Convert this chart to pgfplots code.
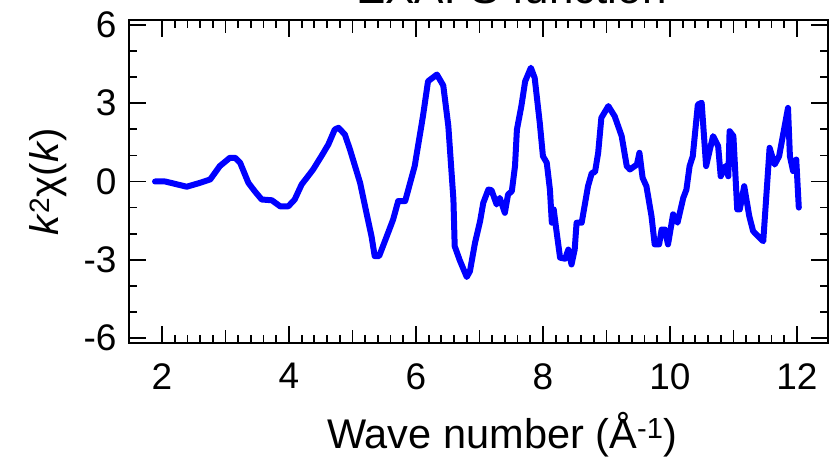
\documentclass[border=0pt]{standalone}
\usepackage{fontspec}
\setmainfont{Liberation Sans}
\usepackage{pgfplots}
\pgfplotsset{compat=1.18}
\begin{document}
\fontsize{37}{44}\selectfont
\begin{tikzpicture}
\begin{axis}[
  at={(0pt,0pt)}, anchor=south west,
  scale only axis, width=699pt, height=323pt,
  xmin=1.48, xmax=12.49, ymin=-6.19, ymax=6.19,
  axis line style={line width=2pt},
  tick style={line width=1.8pt, black},
  tick align=inside,
  xtick={2,4,...,12},
  minor x tick num=9,
  extra x ticks={3,5,7,9,11}, extra x tick labels={},
  extra x tick style={major tick length=13pt},
  ytick={-6,-3,0,3,6}, minor y tick num=2,
  major tick length=17pt, minor tick length=8pt,
  /pgf/number format/assume math mode=true,
  ticklabel style={font=\fontsize{37}{44}\selectfont},
  xticklabel style={yshift=-8pt},
  every axis y label/.style={at={(axis description cs:-0.116,0.5)}, rotate=90, anchor=center, font=\fontsize{40}{46}\selectfont},
  every axis x label/.style={at={(axis description cs:0.534,0)}, anchor=base, yshift=-105pt, font=\fontsize{41.5}{48}\selectfont},
  every axis title/.style={at={(axis description cs:0.547,1)}, anchor=base, yshift=16pt, font=\fontsize{44}{50}\selectfont},
  title={EXAFS function},
  xlabel={Wave number (Å\textsuperscript{-1})},
  ylabel={\textit{k}\textsuperscript{2}χ(\textit{k})},
]
\addplot[color={rgb,255:red,0;green,0;blue,255}, line width=6pt, line join=round, line cap=round] coordinates {
(1.89,0.00) (2.05,0.00) (2.39,-0.20) (2.60,-0.05) (2.76,0.08) (2.91,0.59) (3.07,0.91) (3.15,0.91) (3.23,0.72)
(3.36,-0.05) (3.46,-0.37) (3.57,-0.69) (3.73,-0.72) (3.86,-0.95) (3.99,-0.95) (4.09,-0.69) (4.20,-0.11)
(4.28,0.14) (4.38,0.46) (4.51,0.97) (4.62,1.42) (4.72,1.99) (4.78,2.06) (4.88,1.80) (4.96,1.23)
(5.12,-0.05) (5.22,-1.20) (5.30,-2.10) (5.35,-2.86) (5.42,-2.86) (5.54,-2.10) (5.64,-1.46) (5.72,-0.75)
(5.83,-0.75) (5.98,0.59) (6.11,2.50) (6.19,3.84) (6.33,4.10) (6.43,3.68) (6.51,2.12) (6.59,-0.69)
(6.61,-2.48) (6.69,-3.02) (6.80,-3.66) (6.85,-3.44) (6.93,-2.35) (7.01,-1.52) (7.06,-0.82) (7.14,-0.31)
(7.19,-0.33) (7.27,-0.88) (7.32,-0.63) (7.40,-1.20) (7.45,-0.50) (7.51,-0.37) (7.56,0.59) (7.59,1.99)
(7.66,2.89) (7.72,3.84) (7.81,4.36) (7.87,3.97) (7.95,2.25) (8.00,0.97) (8.06,0.72) (8.11,-0.31)
(8.14,-1.58) (8.17,-1.07) (8.21,-1.84) (8.27,-2.92) (8.35,-2.96) (8.40,-2.61) (8.45,-3.18) (8.50,-2.61)
(8.53,-1.58) (8.61,-1.58) (8.71,-0.18) (8.77,0.33) (8.82,0.36) (8.87,1.10) (8.92,2.44) (9.03,2.89)
(9.13,2.50) (9.24,1.74) (9.32,0.59) (9.37,0.46) (9.48,0.65) (9.52,1.10) (9.57,0.14) (9.63,-0.18)
(9.71,-1.33) (9.76,-2.41) (9.83,-2.41) (9.87,-1.84) (9.92,-1.84) (9.97,-2.41) (10.05,-1.26) (10.12,-1.58)
(10.21,-0.63) (10.26,-0.31) (10.31,0.59) (10.36,0.97) (10.44,2.95) (10.50,3.02) (10.57,0.59) (10.63,1.23)
(10.68,1.74) (10.76,1.35) (10.80,0.20) (10.87,0.59) (10.92,0.20) (10.94,1.93) (11.00,1.74) (11.06,-1.07)
(11.10,-1.07) (11.17,-0.18) (11.25,-1.33) (11.31,-1.90) (11.39,-2.10) (11.47,-2.29) (11.57,1.29) (11.65,0.65)
(11.72,0.97) (11.86,2.82) (11.89,0.97) (11.94,0.40) (11.99,0.84) (12.03,-1.00)
};
\end{axis}
\pgfresetboundingbox
\useasboundingbox (-129pt,-118pt) rectangle (701pt,343pt);
\end{tikzpicture}
\end{document}
